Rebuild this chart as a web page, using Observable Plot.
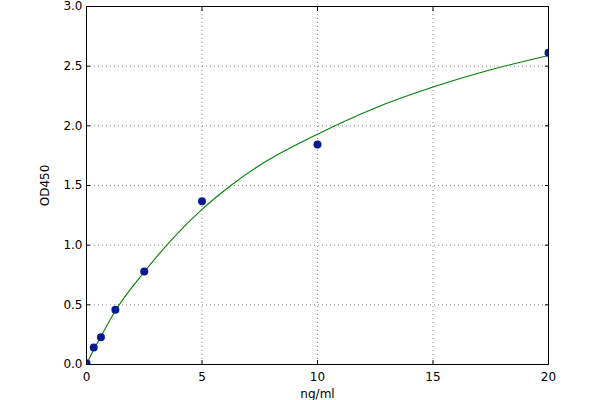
<!DOCTYPE html>
<html>
<head>
<meta charset="utf-8">
<script src="https://cdn.jsdelivr.net/npm/d3@7"></script>
<script src="https://cdn.jsdelivr.net/npm/@observablehq/plot@0.6"></script>
<style>
  html, body { margin: 0; padding: 0; background: #fff; }
  #chart svg { display: block; }
</style>
</head>
<body>
<div id="chart"></div>
<script>
// Measured standards
const conc = [0, 0.3125, 0.625, 1.25, 2.5, 5, 10, 20];
const od = [0.01, 0.142, 0.229, 0.458, 0.779, 1.368, 1.844, 2.612];

// Fitted curve
const curveX = [0, 0.3125, 0.625, 1.25, 2.5, 3.75, 5, 6.25, 7.5, 10, 12.5, 15, 17.5, 20];
const curveY = [0.0, 0.125, 0.235, 0.45, 0.775, 1.06, 1.30, 1.50, 1.67, 1.93, 2.15, 2.325, 2.47, 2.59];

const xTicks = [0, 5, 10, 15, 20];
const yTicks = [0, 0.5, 1.0, 1.5, 2.0, 2.5, 3.0];
const xLabel = "ng/ml";
const yLabel = "OD450";

const points = conc.map((x, i) => ({x, y: od[i]}));
const curve = curveX.map((x, i) => ({x, y: curveY[i]}));

const font = "DejaVu Sans, sans-serif";
const blank = () => "";

const chart = Plot.plot({
  width: 600,
  height: 400,
  marginLeft: 86,
  marginRight: 52,
  marginTop: 6,
  marginBottom: 36,
  style: {fontFamily: font, fontSize: "12px", color: "#000", background: "#fff"},
  x: {domain: [0, 20]},
  y: {domain: [0, 3]},
  marks: [
    Plot.gridX(xTicks, {stroke: "#000", strokeOpacity: 0.45, strokeDasharray: "1,3", strokeWidth: 1}),
    Plot.gridY(yTicks, {stroke: "#000", strokeOpacity: 0.45, strokeDasharray: "1,3", strokeWidth: 1}),
    Plot.line(curve, {x: "x", y: "y", curve: "monotone-x", stroke: "#008000", strokeWidth: 1.1}),
    Plot.dot(points, {x: "x", y: "y", r: 4, fill: "#0a1a90", stroke: "none", clip: true}),
    Plot.frame({stroke: "#000", strokeWidth: 1}),
    Plot.axisX(xTicks, {anchor: "bottom", tickSize: -4, tickPadding: 12, tickFormat: d => String(d), label: xLabel, labelAnchor: "center", labelArrow: "none", labelOffset: 33, fontSize: 12}),
    Plot.axisX(xTicks, {anchor: "top", tickSize: -4, tickFormat: blank, label: null}),
    Plot.axisY(yTicks, {anchor: "left", tickSize: -4, tickPadding: 8, tickFormat: d => d.toFixed(1), label: yLabel, labelAnchor: "center", labelArrow: "none", labelOffset: 46, fontSize: 12}),
    Plot.axisY(yTicks, {anchor: "right", tickSize: -4, tickFormat: blank, label: null})
  ]
});
document.getElementById("chart").appendChild(chart);
</script>
</body>
</html>
